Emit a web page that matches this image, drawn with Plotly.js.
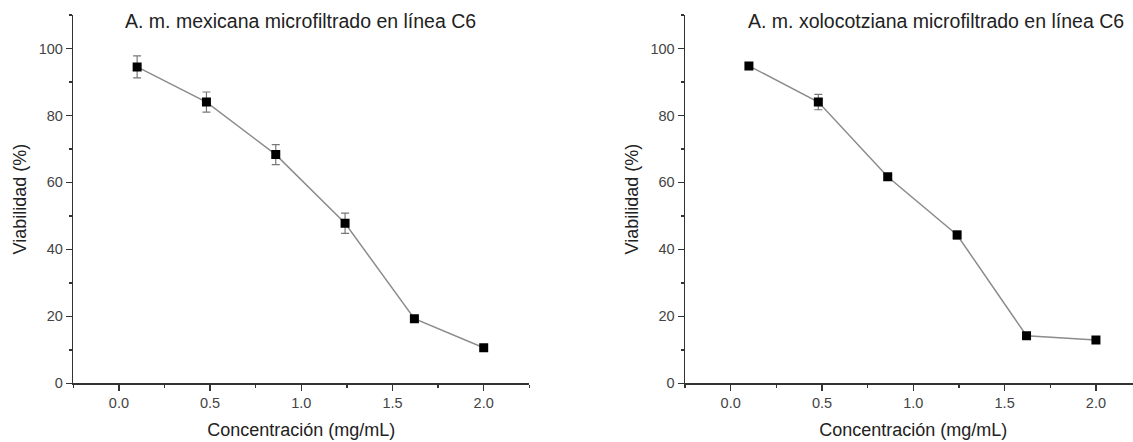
<!DOCTYPE html>
<html>
<head>
<meta charset="utf-8">
<script src="https://cdn.plot.ly/plotly-3.0.1.min.js"></script>
<style>
html,body{margin:0;padding:0;background:#fff;overflow:hidden;}
#chart{width:1142px;height:442px;}
</style>
</head>
<body>
<div id="chart"></div>
<script>
// Data
const concentration = [0.1, 0.48, 0.86, 1.24, 1.62, 2.0];
const mexicanaViab = [94.5, 84.0, 68.3, 47.8, 19.3, 10.6];
const mexicanaErr = [3.3, 3.0, 3.0, 3.0, 0.7, 0.5];
const xoloViab = [94.8, 84.0, 61.7, 44.3, 14.2, 12.9];
const xoloErr = [1.0, 2.3, 0.8, 1.2, 0.6, 0.5];
const titles = ["A. m. mexicana microfiltrado en línea C6", "A. m. xolocotziana microfiltrado en línea C6"];
const xTitle = "Concentración (mg/mL)";
const yTitle = "Viabilidad (%)";

const W = 1142, H = 442;
const fnt = {family: "Liberation Sans, Arial, sans-serif", color: "#222"};
const tickFnt = {family: "Liberation Sans, Arial, sans-serif", color: "#444", size: 14.5};

function trace(y, err, xa, ya) {
  return {
    x: concentration, y: y, xaxis: xa, yaxis: ya,
    type: "scatter", mode: "lines+markers",
    line: {color: "#8c8c8c", width: 1.5},
    marker: {symbol: "square", size: 9, color: "#000"},
    error_y: {type: "data", array: err, visible: true, color: "#777", thickness: 1.2, width: 4},
    showlegend: false, hoverinfo: "skip"
  };
}

function xaxis(dom, anchor) {
  return {
    domain: dom, anchor: anchor, range: [-0.25, 2.25], tick0: 0, dtick: 0.5,
    tickformat: ".1f", showgrid: false, zeroline: false,
    showline: true, linecolor: "#333", linewidth: 1.5,
    ticks: "outside", ticklen: 6, tickwidth: 1.5, tickcolor: "#333",
    minor: {dtick: 0.25, ticks: "outside", ticklen: 3, tickwidth: 1.5, tickcolor: "#333"},
    tickfont: tickFnt,
    title: {text: xTitle, font: Object.assign({size: 18}, fnt), standoff: 13},
    fixedrange: true
  };
}
function yaxis(dom, anchor) {
  return {
    domain: dom, anchor: anchor, range: [0, 110], tick0: 0, dtick: 20,
    showgrid: false, zeroline: false,
    showline: true, linecolor: "#333", linewidth: 1.5,
    ticks: "outside", ticklen: 6, tickwidth: 1.5, tickcolor: "#333",
    minor: {dtick: 10, ticks: "outside", ticklen: 3, tickwidth: 1.5, tickcolor: "#333"},
    tickfont: tickFnt,
    title: {text: yTitle, font: Object.assign({size: 18}, fnt), standoff: 7},
    fixedrange: true
  };
}

const yDom = [1 - 383.3 / H, 1 - 15 / H];
const layout = {
  width: W, height: H,
  margin: {l: 0, r: 0, t: 0, b: 0},
  paper_bgcolor: "#fff", plot_bgcolor: "#fff",
  xaxis: xaxis([73.3 / W, 529.3 / W], "y"),
  yaxis: yaxis(yDom, "x"),
  xaxis2: xaxis([685 / W, 1141.6 / W], "y2"),
  yaxis2: yaxis(yDom, "x2"),
  annotations: [
    {text: titles[0], xref: "paper", yref: "paper", x: 123 / W, y: 1 - 21 / H, xanchor: "left", yanchor: "middle", showarrow: false, font: Object.assign({size: 19.5}, fnt)},
    {text: titles[1], xref: "paper", yref: "paper", x: 746 / W, y: 1 - 21 / H, xanchor: "left", yanchor: "middle", showarrow: false, font: Object.assign({size: 19.5}, fnt)}
  ]
};

Plotly.newPlot("chart", [trace(mexicanaViab, mexicanaErr, "x", "y"), trace(xoloViab, xoloErr, "x2", "y2")], layout, {staticPlot: true, displayModeBar: false});
</script>
</body>
</html>
